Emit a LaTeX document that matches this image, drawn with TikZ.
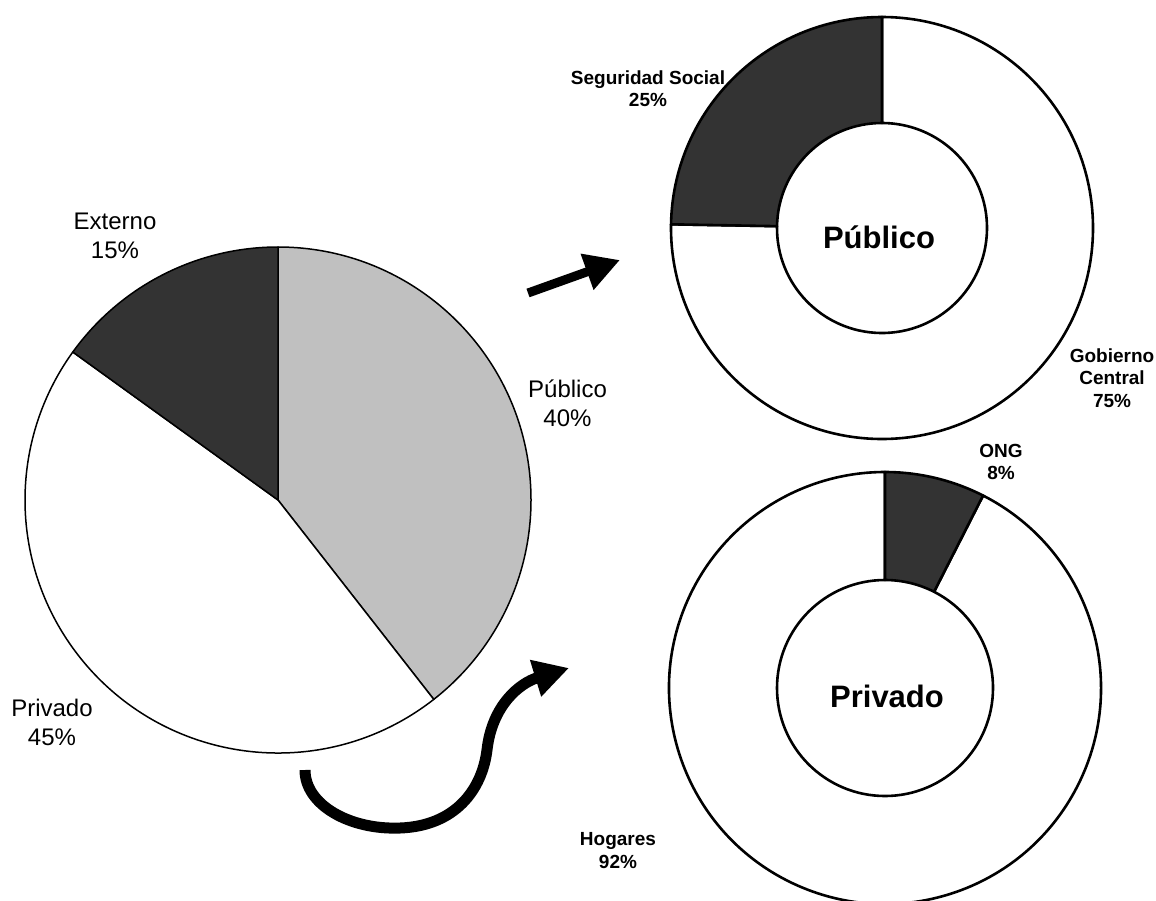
\documentclass[tikz,border=0pt]{standalone}
\usepackage{fontspec}
\setmainfont{Liberation Sans}
\usetikzlibrary{arrows.meta}
\definecolor{darkseg}{HTML}{333333}
\definecolor{lightseg}{HTML}{C0C0C0}
\begin{document}
\begin{tikzpicture}[x=1pt,y=1pt,
  pieline/.style={draw=black, line width=1.5pt, line join=round},
  ringline/.style={draw=black, line width=2.6pt, line join=round},
  plabel/.style={align=center, font=\fontsize{24}{29}\selectfont, inner sep=0pt},
  rlabel/.style={align=center, font=\bfseries\fontsize{19}{22.5}\selectfont, inner sep=0pt},
  ctitle/.style={font=\bfseries\fontsize{31}{36}\selectfont, inner sep=0pt, anchor=base},
  bigarrow/.style={-{Triangle[length=35pt,width=36pt]}},
]
\fill[white] (0,0) rectangle (1156,-900);
\useasboundingbox (0,0) rectangle (1156,-900);

% main pie
\coordinate (pc) at (278,-500);
\begin{scope}[shift={(pc)}]
  \filldraw[fill=lightseg, pieline] (0,0) -- (90:253) arc[start angle=90,end angle=-52,radius=253] -- cycle;
  \filldraw[fill=white, pieline] (0,0) -- (-52:253) arc[start angle=-52,end angle=-215.8,radius=253] -- cycle;
  \filldraw[fill=darkseg, pieline] (0,0) -- (144.2:253) arc[start angle=144.2,end angle=90,radius=253] -- cycle;
\end{scope}

% top ring (Publico)
\coordinate (rc1) at (882,-228);
\begin{scope}[shift={(rc1)}]
  \filldraw[fill=white, ringline] (90:211) arc[start angle=90,end angle=-181,radius=211] -- (-181:105) arc[start angle=-181,end angle=90,radius=105] -- cycle;
  \filldraw[fill=darkseg, ringline] (90:211) arc[start angle=90,end angle=179,radius=211] -- (179:105) arc[start angle=179,end angle=90,radius=105] -- cycle;
\end{scope}

% bottom ring (Privado)
\coordinate (rc2) at (885,-688);
\begin{scope}[shift={(rc2)}]
  \filldraw[fill=white, ringline] (63:216) arc[start angle=63,end angle=-270,radius=216] -- (90:108) arc[start angle=-270,end angle=63,radius=108] -- cycle;
  \filldraw[fill=darkseg, ringline] (90:216) arc[start angle=90,end angle=63,radius=216] -- (63:108) arc[start angle=63,end angle=90,radius=108] -- cycle;
\end{scope}

% labels
\node[plabel] (lext) at (115,-235.5) {Externo\\15\%};
\node[plabel] (lpub) at (567.5,-403.5) {Público\\40\%};
\node[plabel] (lpri) at (52,-722.5) {Privado\\45\%};
\node[rlabel] (lss) at (648,-88.5) {Seguridad Social\\25\%};
\node[rlabel] (lgc) at (1112,-378) {Gobierno\\Central\\75\%};
\node[rlabel] (lng) at (1001,-462) {ONG\\8\%};
\node[rlabel] (lhog) at (618,-850.5) {Hogares\\92\%};
\node[ctitle] (tpub) at (879,-248) {Público};
\node[ctitle] (tpri) at (887,-707) {Privado};

% arrows
\coordinate (a1s) at (528,-293);
\coordinate (a1e) at (620,-260);
\draw[bigarrow, line width=9pt] (a1s) -- (a1e);
\coordinate (a2s) at (305,-770);
\coordinate (a2e) at (569,-668);
\draw[bigarrow, line width=11pt] (a2s) .. controls (305,-805) and (350,-830) .. (400,-828) .. controls (455,-826) and (482,-790) .. (487,-750) .. controls (492,-705) and (520,-683) .. (a2e);
\end{tikzpicture}
\end{document}
